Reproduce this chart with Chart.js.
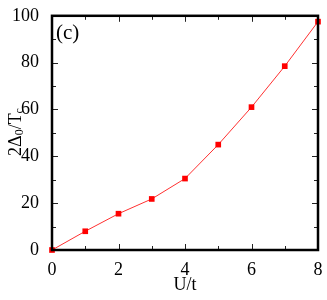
<!DOCTYPE html>
<html>
<head>
<meta charset="utf-8">
<script src="https://cdn.jsdelivr.net/npm/chart.js@4"></script>
<style>
  html, body { margin: 0; padding: 0; background: #fff; }
  #wrap { width: 327px; height: 300px; }
</style>
</head>
<body>
<div id="wrap"><canvas id="gapChart"></canvas></div>
<script>
// gap ratio vs interaction strength
const uValues = [0, 1, 2, 3, 4, 5, 6, 7, 8];
const gapRatio = [0, 8, 15.5, 21.8, 30.5, 45, 61, 78.5, 97.5];
const xTicks = [0, 2, 4, 6, 8];
const yTicks = [0, 20, 40, 60, 80, 100];

const serif = "'Liberation Serif', 'DejaVu Serif', serif";

// box + inward ticks (major and minor) on all four sides
const frame = {
  id: "frame",
  afterDatasetsDraw(chart) {
    const { ctx, chartArea: a, scales } = chart;
    ctx.save();
    ctx.strokeStyle = "#222";
    ctx.lineWidth = 1;
    for (let v = 0; v <= 8; v++) {
      const px = Math.round(scales.x.getPixelForValue(v)) + 0.5;
      const len = v % 2 === 0 ? 6 : 4;
      ctx.beginPath();
      ctx.moveTo(px, a.bottom); ctx.lineTo(px, a.bottom - len);
      ctx.moveTo(px, a.top); ctx.lineTo(px, a.top + len);
      ctx.stroke();
    }
    for (let v = 0; v <= 100; v += 10) {
      const py = Math.round(scales.y.getPixelForValue(v)) + 0.5;
      const len = v % 20 === 0 ? 6 : 4;
      ctx.beginPath();
      ctx.moveTo(a.left, py); ctx.lineTo(a.left + len, py);
      ctx.moveTo(a.right, py); ctx.lineTo(a.right - len, py);
      ctx.stroke();
    }
    ctx.lineWidth = 2.5;
    ctx.strokeStyle = "#000";
    ctx.strokeRect(a.left, a.top, a.right - a.left, a.bottom - a.top);

    // panel label
    ctx.fillStyle = "#000";
    ctx.font = "21px " + serif;
    ctx.textBaseline = "top";
    ctx.textAlign = "left";
    ctx.fillText("(c)", a.left + 4, a.top + 7);

    // y axis title with subscripts
    ctx.translate(16, 132);
    ctx.rotate(-Math.PI / 2);
    ctx.textBaseline = "middle";
    const parts = [["2Δ", 18, 0], ["0", 12, 4], ["/T", 18, 0], ["c", 12, 4]];
    let w = 0;
    parts.forEach(p => { ctx.font = p[1] + "px " + serif; w += ctx.measureText(p[0]).width; });
    let x = -w / 2;
    parts.forEach(p => {
      ctx.font = p[1] + "px " + serif;
      ctx.fillText(p[0], x, p[2]);
      x += ctx.measureText(p[0]).width;
    });
    ctx.restore();
  }
};

new Chart(document.getElementById("gapChart"), {
  type: "line",
  data: {
    datasets: [{
      data: uValues.map((u, i) => ({ x: u, y: gapRatio[i] })),
      borderColor: "#ff3030",
      borderWidth: 1,
      backgroundColor: "#ff0000",
      pointStyle: "rect",
      pointRadius: 4,
      pointBorderWidth: 0,
      tension: 0,
      clip: false,
    }],
  },
  options: {
    responsive: true,
    maintainAspectRatio: false,
    animation: false,
    events: [],
    layout: { padding: { top: 11, right: 9, left: 0, bottom: 0 } },
    plugins: { legend: { display: false }, tooltip: { enabled: false } },
    scales: {
      x: {
        type: "linear",
        min: 0, max: 8,
        afterBuildTicks: s => { s.ticks = xTicks.map(v => ({ value: v })); },
        afterFit: s => { s.height = 50; },
        grid: { display: false },
        border: { display: false },
        ticks: { color: "#000", font: { family: serif, size: 18 }, padding: 1, maxRotation: 0 },
        title: { display: true, text: "U/t", color: "#000", font: { family: serif, size: 18 }, padding: { top: -2 } },
      },
      y: {
        min: 0, max: 100,
        afterBuildTicks: s => { s.ticks = yTicks.map(v => ({ value: v })); },
        afterFit: s => { s.width = 52; },
        grid: { display: false },
        border: { display: false },
        ticks: { color: "#000", font: { family: serif, size: 18 }, padding: 5 },
      },
    },
  },
  plugins: [frame],
});
</script>
</body>
</html>
